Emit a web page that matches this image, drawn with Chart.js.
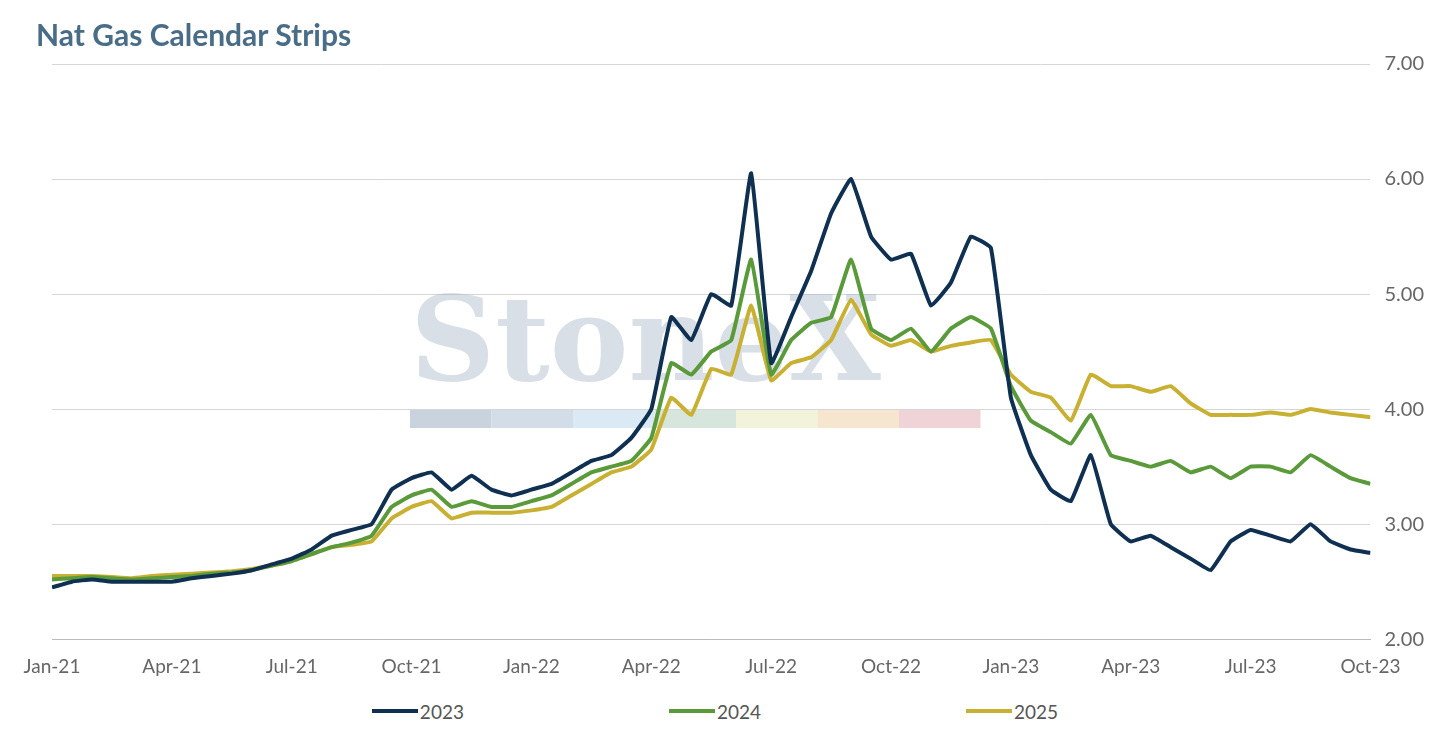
<!DOCTYPE html>
<html><head><meta charset="utf-8">
<script src="https://cdn.jsdelivr.net/npm/chart.js@4.4.0/dist/chart.umd.min.js"></script>
<style>
html,body{margin:0;background:#fff}
#wrap{width:1450px;height:690px;position:relative}
#title{position:absolute;left:36px;top:16px;font-family:Lato;font-weight:bold;font-size:30px;color:#4a6d87;margin:0}
#legend{display:flex;justify-content:center;gap:205px;font-family:Lato;font-size:19px;color:#555;height:42px;align-items:center;margin-left:-20px}
#legend span{display:flex;align-items:center}
#legend i{display:inline-block;width:46px;height:4px;margin-right:2px}
</style>
</head><body><div id="wrap"><canvas id="c"></canvas><h1 id="title">Nat Gas Calendar Strips</h1></div>
<div id="legend"></div>
<script>
// months since Jan-21, half-month steps
const months = []
for (let i = 0; i <= 66; i++) months.push(i / 2)
const monthNames = ['Jan','Feb','Mar','Apr','May','Jun','Jul','Aug','Sep','Oct','Nov','Dec']

const strip2023 = [2.45,2.50,2.52,2.50,2.50,2.50,2.50,2.53,2.55,2.57,2.60,2.65,2.70,2.78,2.90,2.95,3.00,3.30,3.40,3.45,3.30,3.42,3.30,3.25,3.30,3.35,3.45,3.55,3.60,3.75,4.00,4.80,4.60,5.00,4.90,6.05,4.40,4.80,5.20,5.70,6.00,5.50,5.30,5.35,4.90,5.10,5.50,5.40,4.10,3.60,3.30,3.20,3.60,3.00,2.85,2.90,2.80,2.70,2.60,2.85,2.95,2.90,2.85,3.00,2.85,2.78,2.75]
const strip2024 = [2.52,2.53,2.54,2.53,2.52,2.53,2.54,2.55,2.57,2.58,2.60,2.64,2.68,2.74,2.80,2.84,2.90,3.15,3.25,3.30,3.15,3.20,3.15,3.15,3.20,3.25,3.35,3.45,3.50,3.55,3.75,4.40,4.30,4.50,4.60,5.30,4.30,4.60,4.75,4.80,5.30,4.70,4.60,4.70,4.50,4.70,4.80,4.70,4.20,3.90,3.80,3.70,3.95,3.60,3.55,3.50,3.55,3.45,3.50,3.40,3.50,3.50,3.45,3.60,3.50,3.40,3.35]
const strip2025 = [2.55,2.55,2.55,2.54,2.53,2.55,2.56,2.57,2.58,2.59,2.61,2.64,2.68,2.74,2.80,2.82,2.85,3.05,3.15,3.20,3.05,3.10,3.10,3.10,3.12,3.15,3.25,3.35,3.45,3.50,3.65,4.10,3.95,4.35,4.30,4.90,4.25,4.40,4.45,4.60,4.95,4.65,4.55,4.60,4.50,4.55,4.58,4.60,4.30,4.15,4.10,3.90,4.30,4.20,4.20,4.15,4.20,4.05,3.95,3.95,3.95,3.97,3.95,4.00,3.97,3.95,3.93]

const pts = arr => arr.map((v, i) => ({x: months[i], y: v}))

const watermark = {
  id: 'watermark',
  beforeDatasetsDraw(chart) {
    const ctx = chart.ctx
    ctx.save()
    ctx.fillStyle = 'rgba(170,185,200,0.45)'
    ctx.font = 'bold 118px "DejaVu Serif"'
    ctx.fillText('StoneX', 410, 380)
    const cols = ['#c9d3dd','#d3dde8','#dbe9f5','#d6e6dc','#f3f3dc','#f6e6cf','#f0d3d6']
    cols.forEach((c, i) => { ctx.fillStyle = c; ctx.fillRect(410 + i * 81.5, 410, 81.5, 18) })
    ctx.restore()
  }
}

const chart = new Chart(document.getElementById('c'), {
  type: 'line',
  plugins: [watermark],
  data: {
    datasets: [
      {label: '2023', data: pts(strip2023), borderColor: '#0f3050', backgroundColor: '#0f3050'},
      {label: '2024', data: pts(strip2024), borderColor: '#5a9a3a', backgroundColor: '#5a9a3a'},
      {label: '2025', data: pts(strip2025), borderColor: '#c8b032', backgroundColor: '#c8b032'}
    ]
  },
  options: {
    responsive: true,
    maintainAspectRatio: false,
    animation: false,
    layout: {padding: {left: 52, right: 12, top: 64, bottom: 4}},
    elements: {point: {radius: 0}, line: {borderWidth: 4, tension: 0.1}},
    plugins: {
      legend: {display: false},
      tooltip: {enabled: false}
    },
    scales: {
      x: {type: 'linear', min: 0, max: 33,
        ticks: {stepSize: 3, color: '#666', padding: 8, font: {family: 'Lato', size: 19}, maxRotation: 0,
          callback: v => monthNames[v % 12] + '-' + (21 + Math.floor(v / 12))},
        grid: {display: false}, border: {color: '#bbb'}},
      y: {position: 'right', min: 2, max: 7,
        ticks: {stepSize: 1, color: '#666', padding: 14, font: {family: 'Lato', size: 20}, callback: v => v.toFixed(2)},
        grid: {color: '#d6d6d6', drawTicks: false}, border: {display: false}}
    }
  }
})

document.getElementById('legend').innerHTML = chart.data.datasets
  .map(d => `<span><i style="background:${d.borderColor}"></i>${d.label}</span>`).join('')
</script></body></html>
